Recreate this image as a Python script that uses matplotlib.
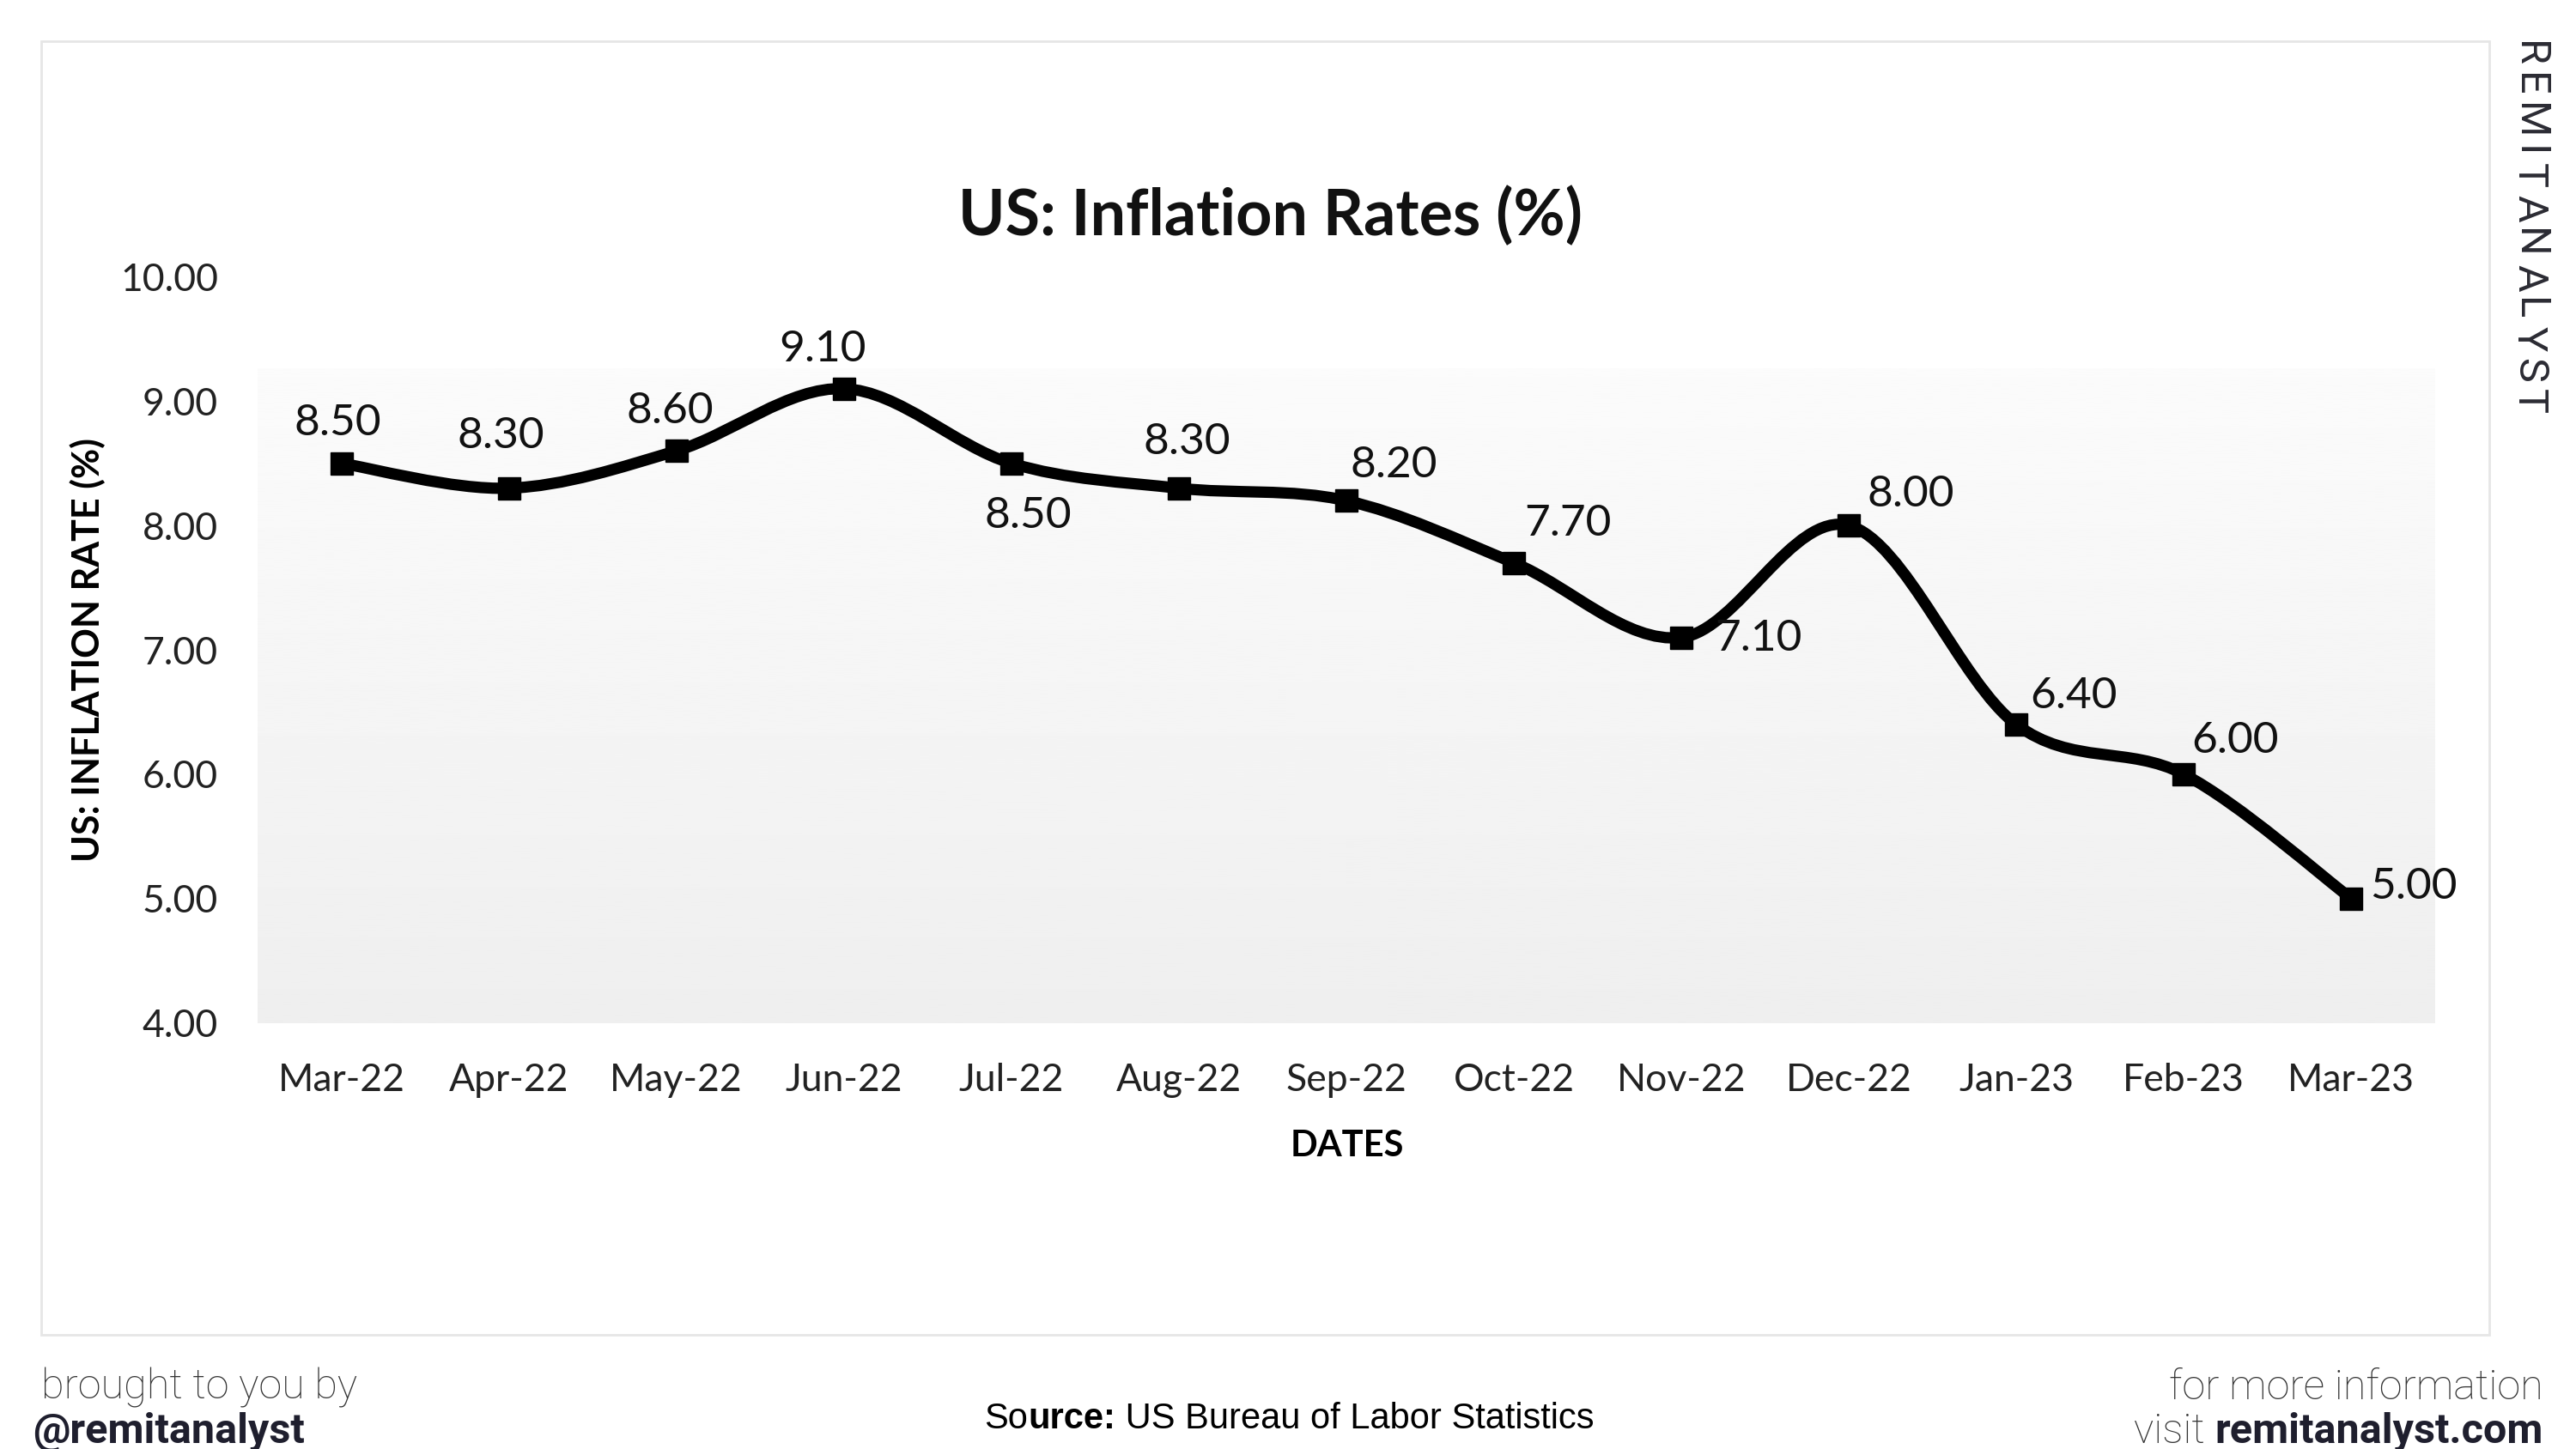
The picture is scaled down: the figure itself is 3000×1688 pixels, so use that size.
import numpy as np
import matplotlib.pyplot as plt
from matplotlib.path import Path
from matplotlib.patches import PathPatch, Rectangle

# Data
months = ["Mar-22", "Apr-22", "May-22", "Jun-22", "Jul-22", "Aug-22", "Sep-22",
          "Oct-22", "Nov-22", "Dec-22", "Jan-23", "Feb-23", "Mar-23"]
rates = [8.50, 8.30, 8.60, 9.10, 8.50, 8.30, 8.20, 7.70, 7.10, 8.00, 6.40, 6.00, 5.00]
y_ticks = [4, 5, 6, 7, 8, 9, 10]

# where each value label sits relative to its point (points)
label_offsets = [(-3, 34), (-7, 44), (-5, 33), (-18, 33), (14, -44), (7, 39), (40, 30),
                 (45, 33), (65, -1), (52, 26), (48, 24), (43, 28), (52, 10)]

chart_font = "Lato"
foot_font = "Roboto"

x = np.arange(len(months))
y = np.array(rates)

fig = plt.figure(figsize=(30, 16.88), dpi=100)
ax = fig.add_axes([0.1, 0.294, 0.8453, 0.515])

# light grey gradient panel behind the line
grad = np.linspace(0.985, 0.935, 256).reshape(-1, 1)
ax.imshow(grad, cmap="gray", vmin=0, vmax=1, extent=[0, 1, 0, 0.877],
          transform=ax.transAxes, aspect="auto", zorder=0)

# smoothed line (Excel style), cubic bezier through the points
pts = np.column_stack([x, y])
padded = np.vstack([pts[0], pts, pts[-1]])
verts = [pts[0]]
codes = [Path.MOVETO]
for i in range(len(pts) - 1):
    p0, p1, p2, p3 = padded[i], padded[i + 1], padded[i + 2], padded[i + 3]
    verts += [p1 + (p2 - p0) / 6, p2 - (p3 - p1) / 6, p2]
    codes += [Path.CURVE4] * 3
ax.add_patch(PathPatch(Path(verts, codes), fill=False, lw=9.5, ec="black",
                       capstyle="round", joinstyle="round", zorder=3))
ax.plot(x, y, ls="none", marker="s", ms=19, color="black", zorder=4)

for xi, yi, (dx, dy) in zip(x, y, label_offsets):
    ax.annotate(f"{yi:.2f}", (xi, yi), xytext=(dx, dy), textcoords="offset points",
                ha="center", va="center", fontsize=37, family=chart_font, color="#111111")

ax.set_xlim(-0.5, 12.5)
ax.set_ylim(4, 10)
ax.set_xticks(x, months)
ax.set_yticks(y_ticks, [f"{v:.2f}" for v in y_ticks])
ax.tick_params(length=0, labelsize=32, colors="#222222")
ax.tick_params(axis="y", pad=33)
ax.tick_params(axis="x", pad=33)
for lab in ax.get_xticklabels() + ax.get_yticklabels():
    lab.set_family(chart_font)
for s in ax.spines.values():
    s.set_visible(False)
ax.set_facecolor("white")

ax.set_ylabel("US: INFLATION RATE (%)", fontsize=31, weight="bold", family=chart_font)
ax.yaxis.set_label_coords(-0.078, 0.5)
ax.yaxis.label.set_va("center")
ax.set_xlabel("DATES", fontsize=30, weight="bold", family=chart_font)
ax.xaxis.set_label_coords(0.5004, -0.165)
ax.xaxis.label.set_va("center")

fig.text(0.493, 0.851, "US: Inflation Rates (%)", ha="center", va="center",
         fontsize=53, weight="bold", family=chart_font, color="#111111")

# frame around the chart
fig.add_artist(Rectangle((0.016, 0.0788), 0.9503, 0.8928, transform=fig.transFigure,
                         fill=False, ec="#e6e6e6", lw=2))

# vertical brand text, letters spread evenly from top to bottom
renderer = fig.canvas.get_renderer()
H = fig.bbox.height
letters = [fig.text(0.9817, 0, ch, rotation=-90, ha="center", va="top", fontsize=35,
                    family=foot_font, color="#2b2b33") for ch in "REMITANALYST"]
sizes = [t.get_window_extent(renderer).height for t in letters]
gap = (434 - sum(sizes)) / (len(letters) - 1)
top = H - 48
for t, h in zip(letters, sizes):
    t.set_y(top / H)
    top -= h + gap

# footer
fig.text(0.016, 0.0344, "brought to you by", ha="left", va="baseline", fontsize=35,
         family=foot_font, weight="light", color="#333333")
fig.text(0.0127, 0.0047, "@remitanalyst", ha="left", va="baseline", fontsize=35,
         family=foot_font, weight="bold", color="#1f1f2e")

t1 = fig.text(0.382, 0.0087, "So", ha="left", va="bottom", fontsize=30,
              family="Liberation Sans", color="black")
t2 = plt.annotate("urce:", xy=(1, 0), xycoords=t1, ha="left", va="bottom", fontsize=30,
                  family="Liberation Sans", weight="bold", color="black")
plt.annotate(" US Bureau of Labor Statistics", xy=(1, 0), xycoords=t2, ha="left", va="bottom",
             fontsize=30, family="Liberation Sans", color="black")

fig.text(0.9873, 0.0344, "for more information", ha="right", va="baseline", fontsize=35,
         family=foot_font, weight="light", color="#333333")
t3 = fig.text(0.9873, 0.0047, "remitanalyst.com", ha="right", va="baseline", fontsize=35,
              family=foot_font, weight="bold", color="#1f1f2e")
plt.annotate("visit ", xy=(0, 0), xycoords=t3, ha="right", va="bottom", fontsize=35,
             family=foot_font, weight="light", color="#333333")

fig.savefig("out.png", dpi=100)
